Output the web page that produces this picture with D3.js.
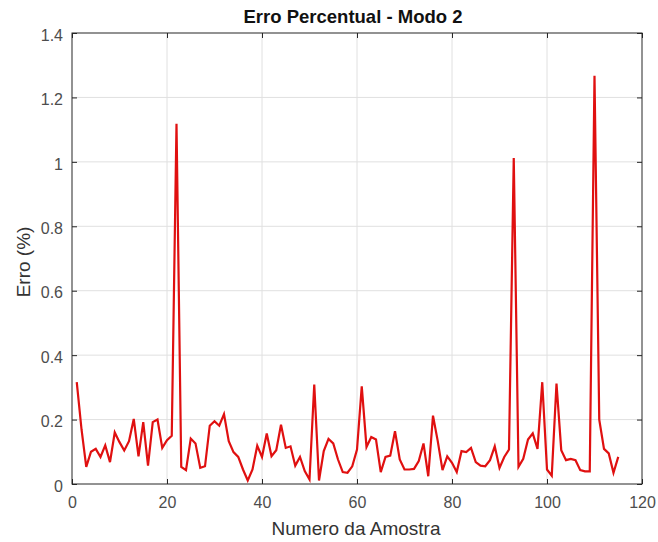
<!DOCTYPE html>
<html>
<head>
<meta charset="utf-8">
<script src="https://cdn.jsdelivr.net/npm/d3@7"></script>
<style>
  body { margin: 0; background: #fff; }
  svg { display: block; font-family: Arial, "Liberation Sans", Helvetica, sans-serif; }
</style>
</head>
<body>
<svg id="chart" width="658" height="542"></svg>
<script>
const titleText = "Erro Percentual - Modo 2";
const xLabel = "Numero da Amostra";
const yLabel = "Erro (%)";
const xTicks = [0, 20, 40, 60, 80, 100, 120];
const yTicks = [0, 0.2, 0.4, 0.6, 0.8, 1, 1.2, 1.4];
const sampleIndex = d3.range(1, 116);
const errorValues = [
  0.316, 0.17, 0.053, 0.100, 0.109, 0.084, 0.120, 0.068, 0.160, 0.130,
  0.104, 0.133, 0.202, 0.086, 0.192, 0.057, 0.192, 0.200, 0.112, 0.136,
  0.150, 1.118, 0.053, 0.043, 0.141, 0.126, 0.050, 0.055, 0.181, 0.195,
  0.181, 0.217, 0.133, 0.099, 0.084, 0.045, 0.011, 0.045, 0.119, 0.084,
  0.157, 0.086, 0.105, 0.184, 0.112, 0.117, 0.057, 0.084, 0.040, 0.014,
  0.309, 0.011, 0.102, 0.140, 0.126, 0.076, 0.037, 0.035, 0.055, 0.107,
  0.303, 0.115, 0.146, 0.138, 0.037, 0.084, 0.088, 0.164, 0.076, 0.045,
  0.045, 0.047, 0.071, 0.126, 0.024, 0.212, 0.133, 0.043, 0.086, 0.066,
  0.037, 0.102, 0.099, 0.112, 0.068, 0.057, 0.055, 0.074, 0.117, 0.050,
  0.084, 0.107, 1.012, 0.053, 0.078, 0.138, 0.157, 0.109, 0.316, 0.045,
  0.026, 0.312, 0.105, 0.074, 0.078, 0.074, 0.043, 0.039, 0.039, 1.267,
  0.200, 0.109, 0.095, 0.035, 0.084
];

const svg = d3.select("#chart");
const mLeft = 72, mRight = 642, mTop = 33, mBottom = 484;

const x = d3.scaleLinear().domain([0, 120]).range([mLeft, mRight]);
const y = d3.scaleLinear().domain([0, 1.4]).range([mBottom, mTop]);

svg.append("rect").attr("x", 0).attr("y", 0).attr("width", 658).attr("height", 542).attr("fill", "#fff");

// grid
const grid = svg.append("g");
grid.selectAll(".gx").data(xTicks.slice(1, -1)).enter().append("line")
  .attr("x1", d => x(d)).attr("x2", d => x(d)).attr("y1", mTop).attr("y2", mBottom)
  .attr("stroke", "#e0e0e0").attr("stroke-width", 1);
grid.selectAll(".gy").data(yTicks.slice(1, -1)).enter().append("line")
  .attr("y1", d => y(d)).attr("y2", d => y(d)).attr("x1", mLeft).attr("x2", mRight)
  .attr("stroke", "#e0e0e0").attr("stroke-width", 1);

// axes (ticks inside)
const tickColor = "#262626";
const labelColor = "#4d4d4d";
const xAxis = svg.append("g").attr("transform", `translate(0,${mBottom})`)
  .call(d3.axisBottom(x).tickValues(xTicks).tickSize(-5).tickPadding(13).tickFormat(d3.format("d")));
const yAxis = svg.append("g").attr("transform", `translate(${mLeft},0)`)
  .call(d3.axisLeft(y).tickValues(yTicks).tickSize(-5).tickPadding(9).tickFormat(d => d3.format("~g")(d)));
const xAxisTop = svg.append("g").attr("transform", `translate(0,${mTop})`)
  .call(d3.axisTop(x).tickValues(xTicks).tickSize(-5).tickFormat(""));
const yAxisRight = svg.append("g").attr("transform", `translate(${mRight},0)`)
  .call(d3.axisRight(y).tickValues(yTicks).tickSize(-5).tickFormat(""));
[xAxis, yAxis, xAxisTop, yAxisRight].forEach(g => {
  g.select(".domain").remove();
  g.selectAll(".tick line").attr("stroke", tickColor);
  g.selectAll("text").attr("fill", labelColor).attr("font-size", 16)
    .attr("font-family", "Arial, 'Liberation Sans', sans-serif");
});
yAxis.selectAll("text").attr("dy", "0.45em");

// box
svg.append("rect").attr("x", mLeft).attr("y", mTop).attr("width", mRight - mLeft).attr("height", mBottom - mTop)
  .attr("fill", "none").attr("stroke", tickColor).attr("stroke-width", 1);

// line
const line = d3.line().x((d, i) => x(sampleIndex[i])).y(d => y(d));
svg.append("path").datum(errorValues)
  .attr("d", line).attr("fill", "none").attr("stroke", "#e01010")
  .attr("stroke-width", 2.2).attr("stroke-linejoin", "miter");

// title & labels
svg.append("text").attr("x", 353).attr("y", 23).attr("text-anchor", "middle")
  .attr("font-size", 18.5).attr("font-weight", "bold").attr("fill", "#111").text(titleText);
svg.append("text").attr("x", 356).attr("y", 535).attr("text-anchor", "middle")
  .attr("font-size", 19).attr("fill", "#333").text(xLabel);
svg.append("text").attr("transform", `translate(30,262) rotate(-90)`).attr("text-anchor", "middle")
  .attr("font-size", 19).attr("fill", "#333").text(yLabel);
</script>
</body>
</html>
